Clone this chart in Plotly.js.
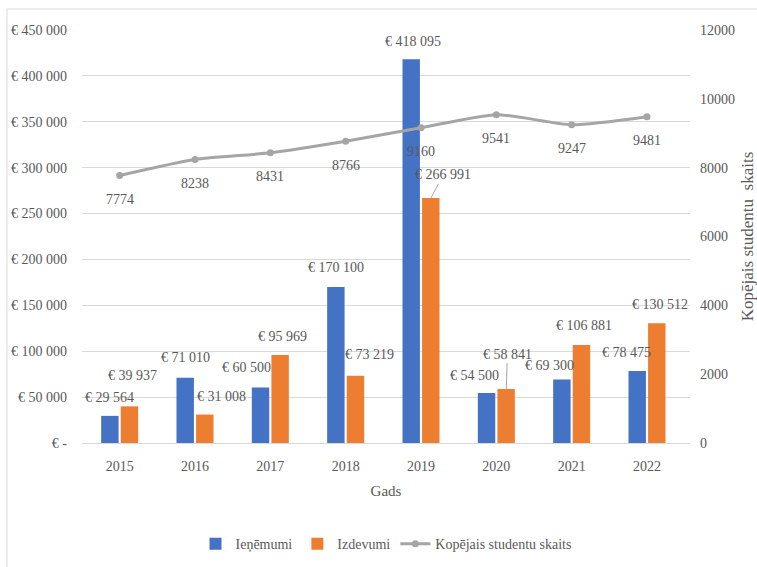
<!DOCTYPE html>
<html>
<head>
<meta charset="utf-8">
<script src="https://cdn.plot.ly/plotly-3.0.1.min.js"></script>
<style>
html,body{margin:0;padding:0;background:#fff;}
#chart{width:757px;height:567px;}
</style>
</head>
<body>
<div id="chart"></div>
<script>
var years = ['2015','2016','2017','2018','2019','2020','2021','2022'];
var income = [29564, 71010, 60500, 170100, 418095, 54500, 69300, 78475];
var expenses = [39937, 31008, 95969, 73219, 266991, 58841, 106881, 130512];
var students = [7774, 8238, 8431, 8766, 9160, 9541, 9247, 9481];
var leftTickVals = [0, 50000, 100000, 150000, 200000, 250000, 300000, 350000, 400000, 450000];
var leftTickText = ['€ -', '€ 50 000', '€ 100 000', '€ 150 000', '€ 200 000', '€ 250 000', '€ 300 000', '€ 350 000', '€ 400 000', '€ 450 000'];

function eur(v){ return '€ ' + String(v).replace(/\B(?=(\d{3})+(?!\d))/g, ' '); }

var FONT = 'Liberation Serif';
var TXT = '#595959';

var traces = [
  {type:'bar', name:'Ieņēmumi', x:years, y:income, marker:{color:'#4472C4'}},
  {type:'bar', name:'Izdevumi', x:years, y:expenses, marker:{color:'#ED7D31'}},
  {type:'scatter', mode:'lines+markers', name:'Kopējais studentu skaits', x:years, y:students, yaxis:'y2',
   line:{color:'#A5A5A5', width:3, shape:'spline', smoothing:0.6}, marker:{color:'#A5A5A5', size:7}}
];

// label pixel offsets (layout only)
var incX = [-10, -10, -24, -10, -8, -22, -22, -21];
var incY = [18, 20, 20, 19, 18, 17, 14, 18];
var expX = [13, 26, 12, 24, 10, 10, 12, 13];
var expY = [31, 18, 18, 21, 23, 35, 19, 19];

var annotations = [];
years.forEach(function(yr, i){
  annotations.push({x:i, y:income[i], xref:'x', yref:'y', text:eur(income[i]), showarrow:false,
    xshift:incX[i], yshift:incY[i], font:{family:FONT, size:14, color:TXT}});
  if (i === 4 || i === 5) {
    annotations.push({x:i, y:expenses[i], xref:'x', yref:'y', text:eur(expenses[i]), showarrow:true,
      arrowhead:0, arrowwidth:1, arrowcolor:'#A5A5A5', standoff:0,
      ax:(i===4?12:1), ay:-expY[i], xshift:expX[i],
      font:{family:FONT, size:14, color:TXT}});
  } else {
    annotations.push({x:i, y:expenses[i], xref:'x', yref:'y', text:eur(expenses[i]), showarrow:false,
      xshift:expX[i], yshift:expY[i], font:{family:FONT, size:14, color:TXT}});
  }
  annotations.push({x:i, y:students[i], xref:'x', yref:'y2', text:String(students[i]), showarrow:false,
    yshift:-24, font:{family:FONT, size:14, color:TXT}});
});

var layout = {
  width:757, height:567,
  margin:{l:82, r:67, t:30, b:124, autoexpand:false},
  paper_bgcolor:'#fff', plot_bgcolor:'#fff',
  font:{family:FONT, size:14, color:TXT},
  barmode:'group', bargap:0.48, bargroupgap:0.11,
  showlegend:true,
  legend:{orientation:'h', x:0.5, xanchor:'center', y:-0.245, yanchor:'middle',
    font:{family:FONT, size:14, color:TXT}},
  xaxis:{type:'category', showgrid:false, showline:true, linecolor:'#D9D9D9', linewidth:1,
    ticks:'', tickfont:{family:FONT, size:14, color:TXT}, ticklabelstandoff:10, automargin:false,
    title:{text:'Gads', font:{family:FONT, size:15, color:TXT}, standoff:12}},
  yaxis:{range:[0,450000], tickvals:leftTickVals, ticktext:leftTickText, showgrid:true, automargin:false,
    gridcolor:'#D9D9D9', gridwidth:1, zeroline:false, showline:false, ticks:'',
    ticklabelstandoff:14, tickfont:{family:FONT, size:14, color:TXT}},
  yaxis2:{range:[0,12000], overlaying:'y', side:'right', dtick:2000, tickformat:'d', showgrid:false, zeroline:false,
    showline:false, ticks:'', ticklabelstandoff:9, automargin:false,
    tickfont:{family:FONT, size:14, color:TXT},
    title:{text:'Kopējais studentu  skaits', font:{family:FONT, size:17, color:TXT}, standoff:9}},
  annotations:annotations,
  shapes:[
    {type:'line', xref:'paper', yref:'paper', x0:(7-82)/608, x1:(7-82)/608, y0:(443-9)/413, y1:(443-567)/413,
     line:{color:'#D9D9D9', width:1}},
    {type:'line', xref:'paper', yref:'paper', x0:(7-82)/608, x1:(757-82)/608, y0:(443-9)/413, y1:(443-9)/413,
     line:{color:'#D9D9D9', width:1}}
  ]
};

Plotly.newPlot('chart', traces, layout, {displayModeBar:false});
</script>
</body>
</html>
